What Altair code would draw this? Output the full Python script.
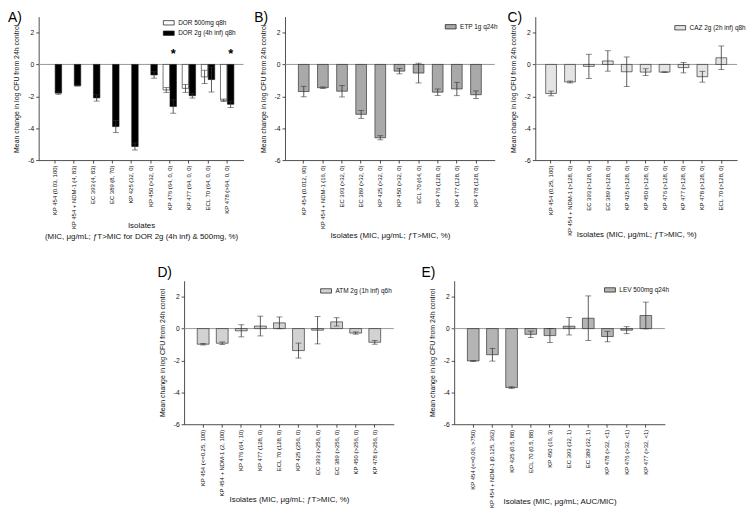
import altair as alt
import pandas as pd

FONT = "Liberation Sans"
Y_TITLE = "Mean change in log CFU from 24h control"

# ---------------- Panel A ----------------
A_isolates = ["KP 454 (0.03, 100)", "KP 454 + NDM-1 (4, 83)", "EC 393 (4, 83)", "EC 389 (8, 70)",
              "KP 425 (32, 0)", "KP 450 (>32, 0)", "KP 476 (64, 0, 0)", "KP 477 (64, 0, 0)",
              "ECL 70 (64, 0, 0)", "KP 478 (>64, 0, 0)"]
A_series = ["DOR 500mg q8h", "DOR 2g (4h inf) q8h"]
A_dor500 = [None, None, None, None, None, None, -1.6, -1.5, -0.78, -2.25]
A_dor500_err = [None, None, None, None, None, None, 0.15, 0.25, 0.42, 0.08]
A_dor2g = [-1.8, -1.33, -2.1, -3.9, -5.15, -0.66, -2.64, -1.96, -0.95, -2.5]
A_dor2g_err = [0.07, 0.03, 0.2, 0.38, 0.22, 0.2, 0.42, 0.15, 0.78, 0.2]
A_star_isolates = ["KP 476 (64, 0, 0)", "KP 478 (>64, 0, 0)"]
A_star_y = [0.84, 0.84]

# ---------------- Panel B ----------------
B_isolates = ["KP 454 (0.012, 90)", "KP 454 + NDM-1 (16, 0)", "EC 393 (>32, 0)", "EC 389 (>32, 0)",
              "KP 425 (>32, 0)", "KP 450 (>32, 0)", "ECL 70 (64, 0)", "KP 476 (128, 0)",
              "KP 477 (128, 0)", "KP 478 (128, 0)"]
B_series = ["ETP 1g q24h"]
B_val = [-1.7, -1.46, -1.68, -3.13, -4.6, -0.42, -0.54, -1.74, -1.54, -1.9]
B_err = [0.33, 0.05, 0.36, 0.25, 0.13, 0.17, 0.62, 0.2, 0.42, 0.24]

# ---------------- Panel C ----------------
C_isolates = ["KP 454 (0.25, 100)", "KP 454 + NDM-1 (>128, 0)", "EC 393 (>128, 0)", "EC 389 (>128, 0)",
              "KP 425 (>128, 0)", "KP 450 (>128, 0)", "KP 476 (>128, 0)", "KP 477 (>128, 0)",
              "KP 478 (>128, 0)", "ECL 70 (>128, 0)"]
C_series = ["CAZ 2g (2h inf) q8h"]
C_val = [-1.82, -1.1, -0.12, 0.22, -0.46, -0.48, -0.48, -0.2, -0.77, 0.42]
C_err = [0.15, 0.06, 0.76, 0.64, 0.93, 0.21, 0.02, 0.33, 0.34, 0.74]

# ---------------- Panel D ----------------
D_isolates = ["KP 454 (<=0.25, 100)", "KP 454 + NDM-1 (2, 100)", "KP 476 (64, 10)", "KP 477 (128, 0)",
              "ECL 70 (128, 0)", "KP 425 (256, 0)", "EC 393 (>256, 0)", "EC 389 (>256, 0)",
              "KP 450 (>256, 0)", "KP 478 (>256, 0)"]
D_series = ["ATM 2g (1h inf) q6h"]
D_val = [-0.98, -0.92, -0.14, 0.16, 0.36, -1.38, -0.1, 0.42, -0.28, -0.86]
D_err = [0.05, 0.08, 0.38, 0.62, 0.37, 0.47, 0.86, 0.26, 0.07, 0.12]

# ---------------- Panel E ----------------
E_isolates = ["KP 454 (<=0.06, >750)", "KP 454 + NDM-1 (0.125, 362)", "KP 425 (0.5, 88)", "ECL 70 (0.5, 88)",
              "KP 450 (16, 3)", "EC 393 (32, 1)", "EC 389 (32, 1)", "KP 478 (>32, <1)",
              "KP 476 (>32, <1)", "KP 477 (>32, <1)"]
E_series = ["LEV 500mg q24h"]
E_val = [-2.03, -1.64, -3.7, -0.36, -0.44, 0.15, 0.65, -0.5, -0.1, 0.82]
E_err = [0.03, 0.4, 0.05, 0.2, 0.44, 0.55, 1.4, 0.33, 0.22, 0.84]

Y_TICKS = [-6, -4, -2, 0, 2]
PLOT_H = 145


def make_df(isolates, series_list):
    rows = []
    for name, vals, errs in series_list:
        for iso, v, e in zip(isolates, vals, errs):
            if v is None:
                continue
            rows.append(dict(iso=iso, series=name, val=v, lo=v - e, hi=v + e))
    return pd.DataFrame(rows)


def panel(isolates, series_list, fills, xtitle, title_y, label, lab_x, lab_y,
          leg_right, leg_y, width, pad_inner, pad_outer, grouped=False, stars=None):
    df = make_df(isolates, series_list)
    names = [s[0] for s in series_list]
    base = alt.Chart(df)

    xenc = alt.X("iso:N", sort=isolates,
                 scale=alt.Scale(domain=isolates, paddingInner=pad_inner, paddingOuter=pad_outer),
                 axis=alt.Axis(title=xtitle, titleY=title_y, titleBaseline="top", labelAngle=-90,
                               labelFontSize=6.0, tickSize=3, labelPadding=2, titleFontSize=8,
                               titleLineHeight=11, labelLimit=0))
    yscale = alt.Scale(domain=[-6, 3], nice=False, zero=False)
    yaxis = alt.Axis(values=Y_TICKS, title=Y_TITLE, labelExpr="datum.value", grid=False, tickSize=3,
                     labelFontSize=6.8, labelPadding=2, titleFontSize=7.0, titlePadding=8)

    def yenc(f):
        return alt.Y(f, type="quantitative", scale=yscale, axis=yaxis)

    extra = {}
    if grouped:
        extra["xOffset"] = alt.XOffset("series:N", scale=alt.Scale(domain=names, paddingInner=0.06))

    fill = alt.Fill("series:N", scale=alt.Scale(domain=names, range=fills),
                    legend=alt.Legend(title=None, orient="none", legendX=width - leg_right, legendY=leg_y))

    zero = alt.Chart(pd.DataFrame({"z": [0]})).mark_rule(color="#8c8c8c", strokeWidth=0.9).encode(
        y=yenc("z"))
    bars = base.mark_bar(stroke="#1a1a1a", strokeWidth=0.6).encode(x=xenc, y=yenc("val"), fill=fill, **extra)
    err = base.mark_rule(color="#333333", strokeWidth=0.8).encode(
        x=xenc, y=yenc("lo"), y2="hi:Q", **extra)
    cap_lo = base.mark_tick(color="#333333", size=6, thickness=0.8).encode(x=xenc, y=yenc("lo"), **extra)
    cap_hi = base.mark_tick(color="#333333", size=6, thickness=0.8).encode(x=xenc, y=yenc("hi"), **extra)
    lab = alt.Chart(pd.DataFrame({"lab": [label]})).mark_text(
        align="left", baseline="top", fontSize=14, font=FONT, color="#000").encode(
        text="lab:N", x=alt.value(lab_x), y=alt.value(lab_y))
    layers = [zero, bars, err, cap_lo, cap_hi, lab]
    if stars is not None:
        sdf = pd.DataFrame({"iso": stars[0], "series": stars[1], "sy": stars[2], "txt": ["*"] * len(stars[0])})
        st = alt.Chart(sdf).mark_text(fontSize=13, fontWeight="bold", baseline="alphabetic", dy=7,
                                      font=FONT).encode(
            x=xenc, y=yenc("sy"), text="txt:N",
            xOffset=alt.XOffset("series:N", scale=alt.Scale(domain=names, paddingInner=0.06)))
        layers.append(st)
    return alt.layer(*layers).properties(width=width, height=PLOT_H)


A = panel(A_isolates, [(A_series[0], A_dor500, A_dor500_err), (A_series[1], A_dor2g, A_dor2g_err)],
          ["#ffffff", "#000000"], ["Isolates", "(MIC, μg/mL; ƒT>MIC for DOR 2g (4h inf) & 500mg, %)"],
          62, "A)", -31, -6, 79, 2.75, 207, 0.3, 0.5, grouped=True,
          stars=(A_star_isolates, [A_series[1]] * 2, A_star_y))
B = panel(B_isolates, [(B_series[0], B_val, B_err)], ["#a9a9a9"], "Isolates (MIC, μg/mL; ƒT>MIC, %)",
          72, "B)", -31, -6, 48, 6.75, 212, 0.44, 0.7)
C = panel(C_isolates, [(C_series[0], C_val, C_err)], ["#e4e4e4"], "Isolates (MIC, μg/mL; ƒT>MIC, %)",
          71, "C)", -28, -6, 61, 7.75, 204, 0.43, 0.55)
D = panel(D_isolates, [(D_series[0], D_val, D_err)], ["#d2d2d2"], "Isolates (MIC, μg/mL; ƒT>MIC, %)",
          72, "D)", -27, -15, 72, 6.75, 212, 0.38, 0.69)
E = panel(E_isolates, [(E_series[0], E_val, E_err)], ["#b4b4b4"], "Isolates (MIC, μg/mL; AUC/MIC)",
          74, "E)", -33, -15, 59, 5.75, 213, 0.39, 0.69)

spacer = alt.Chart(pd.DataFrame({"s": [0]})).mark_point(opacity=0).properties(width=93, height=10)

top = alt.hconcat(A, B, C, spacing=10).resolve_scale(
    fill="independent", x="independent", y="independent").resolve_legend(fill="independent")
bottom = alt.hconcat(spacer, D, E, spacing=27).resolve_scale(
    fill="independent", x="independent", y="independent").resolve_legend(fill="independent")

chart = alt.vconcat(top, bottom, spacing=26).resolve_scale(
    fill="independent", x="independent", y="independent").resolve_legend(fill="independent").properties(
    padding=0, background="white"
).configure_view(stroke=None).configure_axis(
    labelFont=FONT, titleFont=FONT, domainColor="#222222", tickColor="#222222", labelColor="#111111",
    titleColor="#111111", titleFontWeight="normal", domainWidth=0.8, tickWidth=0.8
).configure_legend(
    labelFont=FONT, labelFontSize=6.5, labelColor="#111111", symbolType="M-2,-0.8H2V0.8H-2Z",
    symbolSize=30, symbolStrokeColor="#111111", symbolStrokeWidth=0.7, labelOffset=6, rowPadding=1.5,
    padding=0, offset=0
)

chart.save("out.html", embed_options={"renderer": "svg", "actions": False})
